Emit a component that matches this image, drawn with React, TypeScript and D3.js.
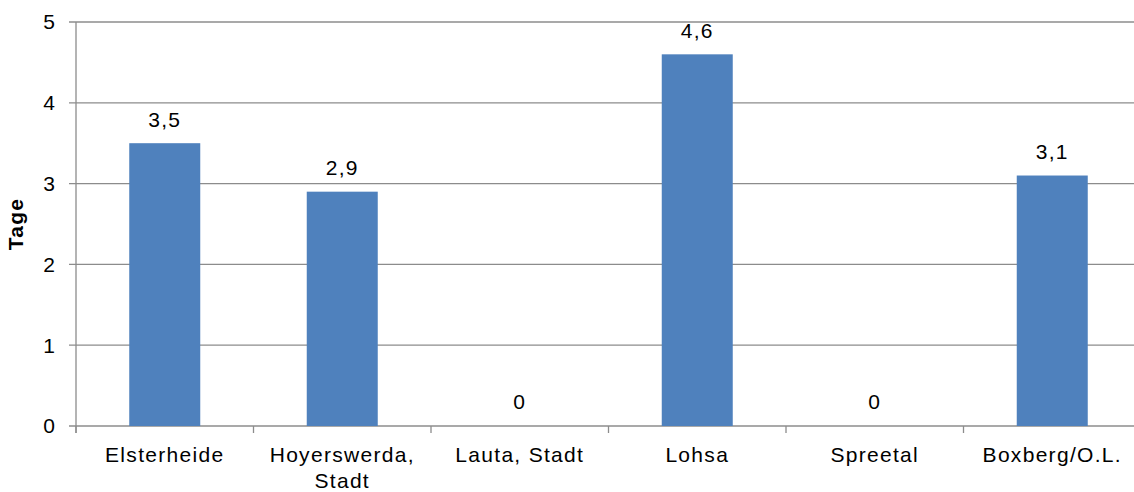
import React from 'react';
import * as d3 from 'd3';

const categories = ['Elsterheide', 'Hoyerswerda, Stadt', 'Lauta, Stadt', 'Lohsa', 'Spreetal', 'Boxberg/O.L.'];
const values = [3.5, 2.9, 0, 4.6, 0, 3.1];
const yTicks = [0, 1, 2, 3, 4, 5];
const yTitle = 'Tage';

const width = 1134;
const height = 492;
const margin = { top: 22, right: -7, bottom: 66, left: 76 };
const font = '"Liberation Sans", Arial, sans-serif';
const fs = 21;
const ls = 1.3;

// long names break after the comma, like the original
const splitLabel = (s) => (s.length > 14 && s.includes(', ') ? [s.split(', ')[0] + ',', s.split(', ')[1]] : [s]);

const App = () => {
  const x = d3
    .scaleBand()
    .domain(categories)
    .range([margin.left, width - margin.right])
    .paddingInner(0.6)
    .paddingOuter(0.3);
  const xEdge = d3.scaleLinear().domain([0, categories.length]).range([margin.left, width - margin.right]);
  const y = d3.scaleLinear().domain([0, 5]).range([height - margin.bottom, margin.top]);

  return (
    <div style={{ position: 'fixed', left: 0, top: 0 }}>
      <svg width={width} height={height} style={{ display: 'block', background: '#fff' }}>
        {yTicks.map((t) => (
          <g key={t}>
            <line x1={margin.left - 7} x2={width - margin.right} y1={y(t)} y2={y(t)} stroke="#8c8c8c" strokeWidth={1.3} />
            <text x={margin.left - 21} y={y(t)} dy="0.35em" textAnchor="end" fontFamily={font} fontSize={fs}>
              {t}
            </text>
          </g>
        ))}
        <line x1={margin.left} x2={margin.left} y1={margin.top} y2={y(0) + 7} stroke="#8c8c8c" strokeWidth={1.3} />
        {d3.range(categories.length + 1).map((i) => (
          <line key={i} x1={xEdge(i)} x2={xEdge(i)} y1={y(0)} y2={y(0) + 7} stroke="#8c8c8c" strokeWidth={1.3} />
        ))}
        {categories.map((c, i) => {
          const cx = x(c) + x.bandwidth() / 2;
          return (
            <g key={c}>
              <rect x={x(c)} y={y(values[i])} width={x.bandwidth()} height={y(0) - y(values[i])} fill="#4f81bd" />
              <text
                x={cx}
                y={y(values[i]) - 24}
                dy="0.35em"
                textAnchor="middle"
                fontFamily={font}
                fontSize={fs}
                letterSpacing={ls}
              >
                {String(values[i]).replace('.', ',')}
              </text>
              <text x={cx} y={y(0) + 36} textAnchor="middle" fontFamily={font} fontSize={fs} letterSpacing={ls}>
                {splitLabel(c).map((line, j) => (
                  <tspan key={j} x={cx} dy={j === 0 ? 0 : 26}>
                    {line}
                  </tspan>
                ))}
              </text>
            </g>
          );
        })}
        <text
          transform={`translate(23, ${(margin.top + y(0)) / 2}) rotate(-90)`}
          textAnchor="middle"
          fontFamily={font}
          fontSize={fs}
          fontWeight="bold"
          letterSpacing={ls}
        >
          {yTitle}
        </text>
      </svg>
    </div>
  );
};

export default App;
